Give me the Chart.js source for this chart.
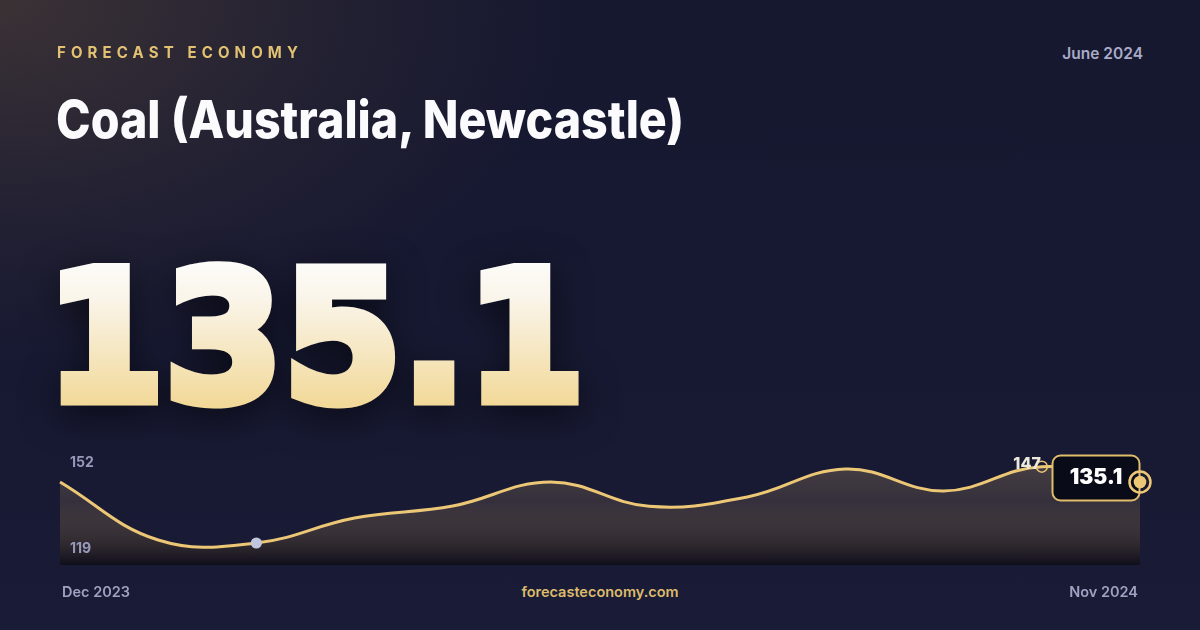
<!DOCTYPE html>
<html>
<head>
<meta charset="utf-8">
<script src="https://cdn.jsdelivr.net/npm/chart.js@4.4.1/dist/chart.umd.min.js"></script>
<style>
  html, body { margin:0; padding:0; width:1200px; height:630px; overflow:hidden; }
  body {
    position:relative;
    font-family: Inter, "Noto Sans", sans-serif;
    background:
      radial-gradient(ellipse 760px 480px at 0% 0%, rgba(120,92,62,0.38), rgba(120,92,62,0.12) 45%, rgba(120,92,62,0) 75%),
      linear-gradient(180deg, #161830 0%, #171932 60%, #1a1b36 100%);
  }
  .txt { position:absolute; white-space:nowrap; line-height:1; }
  #brand { left:57px; top:45px; font-weight:700; font-size:15.5px; letter-spacing:5.3px; color:#e2c272; transform-origin:left top; }
  #date { right:57px; top:46px; font-weight:600; font-size:15.5px; color:#a9abc7; }
  #title { left:56px; top:94px; font-weight:800; font-size:52px; color:#fbfbfd; transform-origin:left top; }
  #bigsvg { position:absolute; left:0; top:0; filter: drop-shadow(0 10px 18px rgba(0,0,0,0.55)); }
  #site { left:0; width:1200px; text-align:center; top:585px; font-weight:600; font-size:14.5px; color:#dcbc6c; }
  canvas { position:absolute; left:0; top:0; }
</style>
</head>
<body>
<div class="txt" id="brand">FORECAST ECONOMY</div>
<div class="txt" id="date">June 2024</div>
<div class="txt" id="title">Coal (Australia, Newcastle)</div>
<svg id="bigsvg" width="1200" height="460" viewBox="0 0 1200 460">
  <defs>
    <linearGradient id="bg" gradientUnits="userSpaceOnUse" x1="0" y1="262" x2="0" y2="405">
      <stop offset="0" stop-color="#fdfcf9"/>
      <stop offset="0.25" stop-color="#faf5ea"/>
      <stop offset="1" stop-color="#f2d999"/>
    </linearGradient>
  </defs>
  <text id="big" x="46" y="399.5" font-family="DejaVu Sans" font-weight="700" font-size="180"
        fill="url(#bg)" stroke="url(#bg)" stroke-width="11" stroke-linejoin="miter" stroke-miterlimit="4"
        textLength="539" lengthAdjust="spacingAndGlyphs">135.1</text>
</svg>
<div class="txt" id="site">forecasteconomy.com</div>
<canvas id="c" width="1200" height="630"></canvas>
<script>
// ---- data ----
const months = ['Dec 2023','Jan 2024','Feb 2024','Mar 2024','Apr 2024','May 2024','Jun 2024','Jul 2024','Aug 2024','Sep 2024','Oct 2024','Nov 2024'];
const prices = [142.4, 125.0, 124.1, 131.6, 135.2, 142.4, 135.1, 137.9, 146.3, 139.7, 147.0, 142.4];
const yTickLabels = ['152', '119'];
const xTickLabels = ['Dec 2023', 'Nov 2024'];
const currentValue = '135.1';
const yMin = 117.5, yMax = 152;

const GOLD = '#ecc776';

function fitWidth(el, w) {
  el.style.transform = 'none';
  const r = el.getBoundingClientRect().width;
  if (r > 0) el.style.transform = 'scaleX(' + (w / r) + ')';
}

const markers = {
  id: 'markers',
  afterDatasetsDraw(chart) {
    const ctx = chart.ctx;
    const pts = chart.getDatasetMeta(0).data;
    const ca = chart.chartArea;
    const minI = prices.indexOf(Math.min(...prices));
    const maxI = prices.indexOf(Math.max(...prices));
    const lastI = prices.length - 1;
    ctx.save();
    // min dot
    ctx.fillStyle = '#c2c5de';
    ctx.beginPath(); ctx.arc(pts[minI].x, pts[minI].y, 5.6, 0, Math.PI * 2); ctx.fill();
    // max ring + label
    ctx.strokeStyle = GOLD; ctx.lineWidth = 1.5;
    ctx.beginPath(); ctx.arc(pts[maxI].x, pts[maxI].y, 5.5, 0, Math.PI * 2); ctx.stroke();
    ctx.font = '800 16px Inter';
    ctx.fillStyle = '#ece8dc';
    ctx.textAlign = 'right'; ctx.textBaseline = 'alphabetic';
    ctx.fillText(String(Math.round(prices[maxI])), pts[maxI].x - 1, pts[maxI].y + 2);
    // current value box
    const p = pts[lastI];
    const bx = p.x - 87.5, by = p.y - 26.5, bw = 87, bh = 45;
    ctx.beginPath(); ctx.roundRect(bx, by, bw, bh, 8);
    ctx.fillStyle = '#0a0b18'; ctx.fill();
    ctx.strokeStyle = '#e0bd6a'; ctx.lineWidth = 2; ctx.stroke();
    ctx.font = '900 21px Inter';
    ctx.fillStyle = '#ffffff'; ctx.textAlign = 'center';
    ctx.fillText(currentValue, bx + bw / 2, p.y + 1.5);
    // end marker
    ctx.strokeStyle = GOLD; ctx.lineWidth = 2.5;
    ctx.beginPath(); ctx.arc(p.x, p.y, 10.5, 0, Math.PI * 2); ctx.stroke();
    ctx.fillStyle = GOLD;
    ctx.beginPath(); ctx.arc(p.x, p.y, 6.3, 0, Math.PI * 2); ctx.fill();
    // y labels
    ctx.font = '700 14px Inter';
    ctx.fillStyle = '#9799ba'; ctx.textAlign = 'left';
    ctx.fillText(yTickLabels[0], ca.left + 10, ca.top + 16.5);
    ctx.fillText(yTickLabels[1], ca.left + 10, ca.bottom - 12.5);
    // x labels
    ctx.font = '600 14.5px Inter';
    ctx.fillStyle = '#a0a2c1';
    ctx.textAlign = 'left';
    ctx.fillText(xTickLabels[0], ca.left + 2, ca.bottom + 32);
    ctx.textAlign = 'right';
    ctx.fillText(xTickLabels[1], ca.right - 2, ca.bottom + 32);
    ctx.restore();
  }
};

function build() {
  fitWidth(document.getElementById('title'), 628);
  fitWidth(document.getElementById('brand'), 246);
  new Chart(document.getElementById('c'), {
    type: 'line',
    data: {
      labels: months,
      datasets: [{
        data: prices,
        borderColor: GOLD,
        borderWidth: 3,
        tension: 0.4,
        pointRadius: 0,
        fill: 'start',
        backgroundColor: (c) => {
          const a = c.chart.chartArea;
          if (!a) return 'rgba(236,199,118,0.15)';
          const g = c.chart.ctx.createLinearGradient(0, a.top, 0, a.bottom);
          g.addColorStop(0, 'rgba(242,202,122,0.25)');
          g.addColorStop(0.45, 'rgba(205,165,105,0.16)');
          g.addColorStop(1, 'rgba(8,6,10,0.6)');
          return g;
        }
      }]
    },
    options: {
      responsive: false,
      devicePixelRatio: 1,
      animation: false,
      layout: { padding: { left: 60, right: 60, top: 450, bottom: 65 } },
      scales: {
        x: { display: false, offset: false },
        y: { display: false, min: yMin, max: yMax }
      },
      plugins: { legend: { display: false }, tooltip: { enabled: false } }
    },
    plugins: [markers]
  });
}
if (document.fonts && document.fonts.ready) document.fonts.ready.then(build); else build();
</script>
</body>
</html>
